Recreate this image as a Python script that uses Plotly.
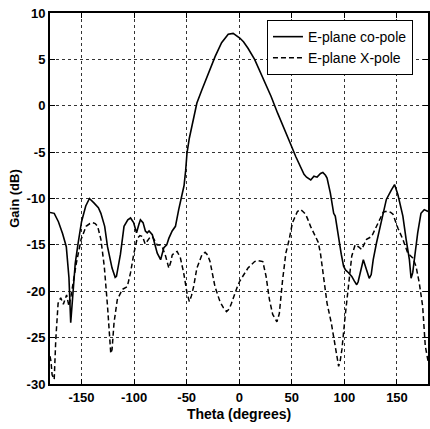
import plotly.graph_objects as go

theta_co = [-180, -176, -172, -168, -164.5, -162, -160.3, -158, -156, -153.5, -150, -146, -142.5, -138, -134,
            -131.6, -128, -125.3, -121, -118, -116.8, -113, -109.6, -106, -103.4, -100.5, -97.7, -95.5, -94,
            -91.5, -89.3, -87.5, -85.8, -82.7, -80, -78, -74.8, -71.7, -69, -67, -63.8, -60.7, -57.6, -54.4,
            -52.5, -51, -49.7, -47.5, -45, -40.3, -35.6, -29.3, -23, -16.8, -10.5, -5.8, 0.5, 4, 8.3, 14.6,
            22.4, 30.3, 36.5, 42.8, 49.1, 53.8, 58.5, 61.6, 64, 66.3, 68, 71, 74, 77.3, 79.5, 82, 83.5, 86.6,
            89.8, 91.3, 94.5, 97, 99.2, 101, 103.9, 107, 109.5, 111.7, 113, 114.9, 118, 121.1, 123.6, 125.5,
            127.4, 130.5, 135.2, 139.9, 144.6, 147.7, 150.9, 153, 155.6, 158.7, 161.8, 163.4, 165, 166.5,
            169.7, 172.8, 175.9, 179.5]
gain_co = [-11.5, -11.6, -12.5, -13.8, -15.2, -18.5, -23.4, -20, -17, -15, -12.5, -10.8, -10.0, -10.5, -11.0,
           -11.6, -13, -15.2, -17.5, -18.5, -18.4, -16, -13.0, -12.3, -12.1, -12.6, -13.7, -12.8, -12.3,
           -12.6, -13.5, -13.7, -13.5, -13.9, -15.0, -15.9, -16.6, -15.3, -15.0, -14.3, -13.5, -13.0, -11.2, -9.4,
           -8.6, -7.0, -5.1, -3.5, -2.2, 0.3, 1.7, 3.5, 5.3, 6.8, 7.7, 7.8, 7.3, 6.9, 6.2, 5.0,
           3.0, 1.0, -0.8, -2.6, -4.2, -5.5, -6.7, -7.4, -7.7, -7.9, -8.0, -7.6, -7.7, -7.3, -7.2, -7.5, -7.8, -9.4,
           -11.6, -11.9, -14.4, -16, -17.3, -17.7, -18.0, -18.4, -18.9, -19.3, -19.0, -18.0, -16.6, -17.7, -18.6, -18.2,
           -16.6, -14.8, -12.3, -10.1, -9.1, -8.5, -9.6, -10.6, -11.9, -14.4, -16.6, -18.6, -18.0, -16.6,
           -13.7, -11.6, -11.2, -11.4]

theta_x = [-180, -179, -178, -176, -174.5, -172.3, -169.8, -167.3, -164.2, -162, -160, -158.2, -155, -150.4,
           -145.7, -142, -139.4, -137, -134.7, -131.6, -128.4, -125.3, -122.2, -121, -119.1, -116, -111.2, -106.5,
           -103.4, -100.2, -97.1, -94.5, -92, -89.5, -87.3, -85, -82.7, -80, -78, -75.5, -73.3, -70.1, -67, -65,
           -63.8, -61, -59.1, -56, -52.9, -49.7, -47.5, -45.5, -43.4, -40.3, -35.6, -32.5, -30, -27.8, -25.5,
           -23.1, -18.4, -15, -12.1, -9.5, -7.4, -4.2, -1.8, 0.5, 4, 8.3, 14.6, 18, 22.4, 25.5, 28.7, 31.8, 35.8,
           38.1, 41.2, 44.3, 47.5, 50.6, 55.3, 58.4, 60.5, 63.1, 65, 67.8, 72.5, 75, 77.2, 80.4, 83.5, 87.5, 91.3,
           94.5, 96, 97.6, 100.7, 103.9, 107, 110.2, 113.3, 116.4, 118.5, 121.1, 125.9, 130.5, 133.7, 136.8, 139,
           141.5, 144, 146.2, 150.9, 155.6, 160.3, 165, 168.1, 171.2, 174.4, 176.9, 179.5]
gain_x = [-27.0, -27.6, -29.0, -29.5, -25.2, -21.3, -20.7, -21.4, -20.4, -21.6, -20.5, -19.1, -17.0, -14.4,
          -13.0, -12.7, -12.6, -12.7, -13.0, -14.4, -17.3, -21.6, -26.7, -26.3, -23.4, -20.9, -19.8, -19.5,
          -18.0, -15.9, -14.3, -14.0, -14.1, -14.9, -14.6, -14.2, -14.1, -14.6, -15.0, -15.0, -15.2, -16.2, -17.5, -16.8,
          -16.1, -15.8, -15.7, -16.4, -18.0, -20.2, -21.1, -20.5, -19.5, -17.5, -16.1, -15.8, -16.1, -16.8, -18,
          -19.5, -21.1, -21.8, -22.2, -21.9, -21.3, -20.2, -19.5, -18.9, -18.3, -17.5, -16.8, -16.7, -16.8, -18.4, -20.9, -22.5, -23.3,
          -22.4, -18.8, -15.9, -14.4, -12.6, -11.4, -11.2, -11.4, -11.7, -12.2, -13.0, -14.1, -14.7, -15.9, -18.8, -21.3, -23.4, -25.9,
          -28.1, -27.5, -26.3, -22.7, -19.1, -16.2, -15.0, -15.2, -15.5, -15.0, -14.4, -14.1, -13.0, -12.1, -11.5, -11.4,
          -11.4, -11.5, -11.7, -13.2, -14.4, -15.9, -16.4, -17.3, -19.1, -21.6, -25.9, -27.5]

x_ticks = [-150, -100, -50, 0, 50, 100, 150]
y_ticks = [-30, -25, -20, -15, -10, -5, 0, 5, 10]

FONT = "Liberation Sans, Arial, sans-serif"

fig = go.Figure()
fig.add_trace(go.Scatter(x=theta_co, y=gain_co, mode="lines", name="E-plane co-pole",
                         line=dict(color="black", width=1.6)))
fig.add_trace(go.Scatter(x=theta_x, y=gain_x, mode="lines", name="E-plane X-pole",
                         line=dict(color="black", width=1.5, dash="5px,3px")))

axis_common = dict(showline=True, linecolor="black", linewidth=2, mirror="ticks",
                   ticks="inside", ticklen=5, tickcolor="black",
                   showgrid=True, gridcolor="#333333", gridwidth=1, griddash="3px,3px",
                   zeroline=False,
                   tickfont=dict(family=FONT, size=13, color="black", weight="bold"))

fig.update_xaxes(range=[-180, 179.5], tickvals=x_ticks, ticktext=[str(v) for v in x_ticks],
                 title=dict(text="Theta (degrees)", font=dict(family=FONT, size=14, color="black", weight="bold"),
                            standoff=6),
                 **axis_common)
fig.update_yaxes(range=[-30, 10], tickvals=y_ticks, ticktext=[str(v) for v in y_ticks],
                 title=dict(text="Gain (dB)", font=dict(family=FONT, size=13, color="black", weight="bold"),
                            standoff=4),
                 **axis_common)

fig.update_layout(
    width=430, height=429,
    margin=dict(l=50, r=0, t=13, b=45),
    plot_bgcolor="white", paper_bgcolor="white",
    font=dict(family=FONT, color="black"),
    legend=dict(x=0.574, y=0.981, xanchor="left", yanchor="top",
                bgcolor="white", bordercolor="black", borderwidth=1,
                font=dict(family=FONT, size=14, color="black"),
                tracegroupgap=0, itemwidth=30),
    showlegend=True,
)

fig.write_html("out.html", config={"displayModeBar": False},
               post_script="document.body.style.margin='0';document.body.style.overflow='hidden';")
